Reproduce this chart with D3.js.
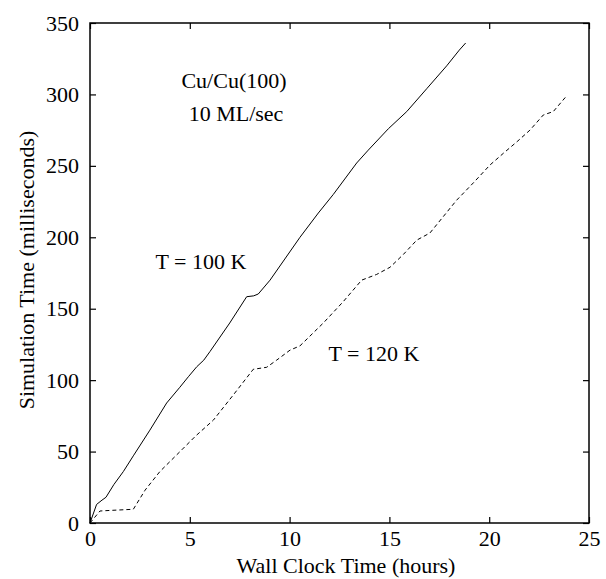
<!DOCTYPE html>
<html>
<head>
<meta charset="utf-8">
<script src="https://cdn.jsdelivr.net/npm/d3@7"></script>
<style>
body { margin: 0; background: #fff; }
text { font-family: "Liberation Serif", "Times New Roman", serif; fill: #000; }
</style>
</head>
<body>
<svg id="chart" width="606" height="579"></svg>
<script>
// T = 100 K run (solid)
var hours100 = [0, 0.33, 0.6, 0.8, 1.2, 1.67, 2.17, 3.0, 3.84, 4.5, 4.93, 5.35, 5.7, 6.01, 7.0, 7.85, 8.2, 8.43, 9.02, 10.52, 11.44, 12.19, 13.36, 13.94, 14.95, 15.87, 16.87, 17.87, 18.5, 18.82];
var sim100   = [0, 13, 16, 18, 27, 36, 47, 65, 84, 95, 102.4, 109.4, 114, 120, 140, 158.4, 159, 160.3, 170, 200, 217, 230, 252, 261, 276, 288, 304, 320, 331, 336];
// T = 120 K run (dashed)
var hours120 = [0, 0.5, 1.0, 2.17, 2.76, 3.5, 4.51, 5.3, 6.18, 7.2, 8.18, 8.85, 9.35, 10.02, 10.52, 11.69, 12.69, 13.61, 14.36, 15.03, 15.7, 16.37, 17.03, 18.37, 19.2, 20.04, 20.71, 21.4, 22.04, 22.71, 23.21, 23.88];
var sim120   = [0, 8.4, 8.8, 9.6, 23, 36, 50, 61, 72, 90, 107.6, 109, 114, 121, 124, 140, 155, 170, 174, 179, 188, 198, 203, 226, 238, 250.6, 258.8, 267, 275, 285.6, 288, 299];

var xTicks = [0, 5, 10, 15, 20, 25];
var yTicks = [0, 50, 100, 150, 200, 250, 300, 350];

var svg = d3.select('#chart');
var pLeft = 90, pRight = 589, pTop = 23, pBottom = 523;

var x = d3.scaleLinear().domain([0, 25]).range([pLeft, pRight]);
var y = d3.scaleLinear().domain([0, 350]).range([pBottom, pTop]);

function pts(xs, ys){ return xs.map(function(d, i){ return [d, ys[i]]; }); }
var line = d3.line().x(function(d){ return x(d[0]); }).y(function(d){ return y(d[1]); });

// axes, ticks pointing inward on all four sides
svg.append('g').attr('transform', 'translate(0,' + pBottom + ')')
	.call(d3.axisBottom(x).tickValues(xTicks).tickSizeInner(-6).tickSizeOuter(0).tickPadding(7));
svg.append('g').attr('transform', 'translate(' + pLeft + ',0)')
	.call(d3.axisLeft(y).tickValues(yTicks).tickSizeInner(-6).tickSizeOuter(0).tickPadding(11));
svg.append('g').attr('transform', 'translate(0,' + pTop + ')')
	.call(d3.axisTop(x).tickValues(xTicks).tickSizeInner(-6).tickSizeOuter(0).tickFormat(''));
svg.append('g').attr('transform', 'translate(' + pRight + ',0)')
	.call(d3.axisRight(y).tickValues(yTicks).tickSizeInner(-6).tickSizeOuter(0).tickFormat(''));

svg.selectAll('.domain').remove();
svg.selectAll('.tick line').attr('stroke', '#000').attr('stroke-width', 1.2);
svg.selectAll('.tick text').attr('font-size', 22).attr('font-family', '"Liberation Serif", serif');

svg.append('rect')
	.attr('x', pLeft).attr('y', pTop)
	.attr('width', pRight - pLeft).attr('height', pBottom - pTop)
	.attr('fill', 'none').attr('stroke', '#000').attr('stroke-width', 1.5);

svg.append('path').datum(pts(hours100, sim100))
	.attr('d', line).attr('fill', 'none').attr('stroke', '#000').attr('stroke-width', 1);
svg.append('path').datum(pts(hours120, sim120))
	.attr('d', line).attr('fill', 'none').attr('stroke', '#000').attr('stroke-width', 1)
	.attr('stroke-dasharray', '4,3');

// titles
svg.append('text').attr('x', 346).attr('y', 573)
	.attr('text-anchor', 'middle').attr('font-size', 22).text('Wall Clock Time (hours)');
svg.append('text').attr('transform', 'translate(34,270) rotate(-90)')
	.attr('text-anchor', 'middle').attr('font-size', 22).text('Simulation Time (milliseconds)');

// annotations
var notes = [
	{t: 'Cu/Cu(100)', x: 234, y: 88},
	{t: '10 ML/sec', x: 236, y: 121},
	{t: 'T = 100 K', x: 201, y: 269},
	{t: 'T = 120 K', x: 374, y: 361}
];
svg.selectAll('text.note').data(notes).enter().append('text').attr('class', 'note')
	.attr('x', function(d){ return d.x; }).attr('y', function(d){ return d.y; })
	.attr('text-anchor', 'middle').attr('font-size', 22)
	.text(function(d){ return d.t; });
</script>
</body>
</html>
